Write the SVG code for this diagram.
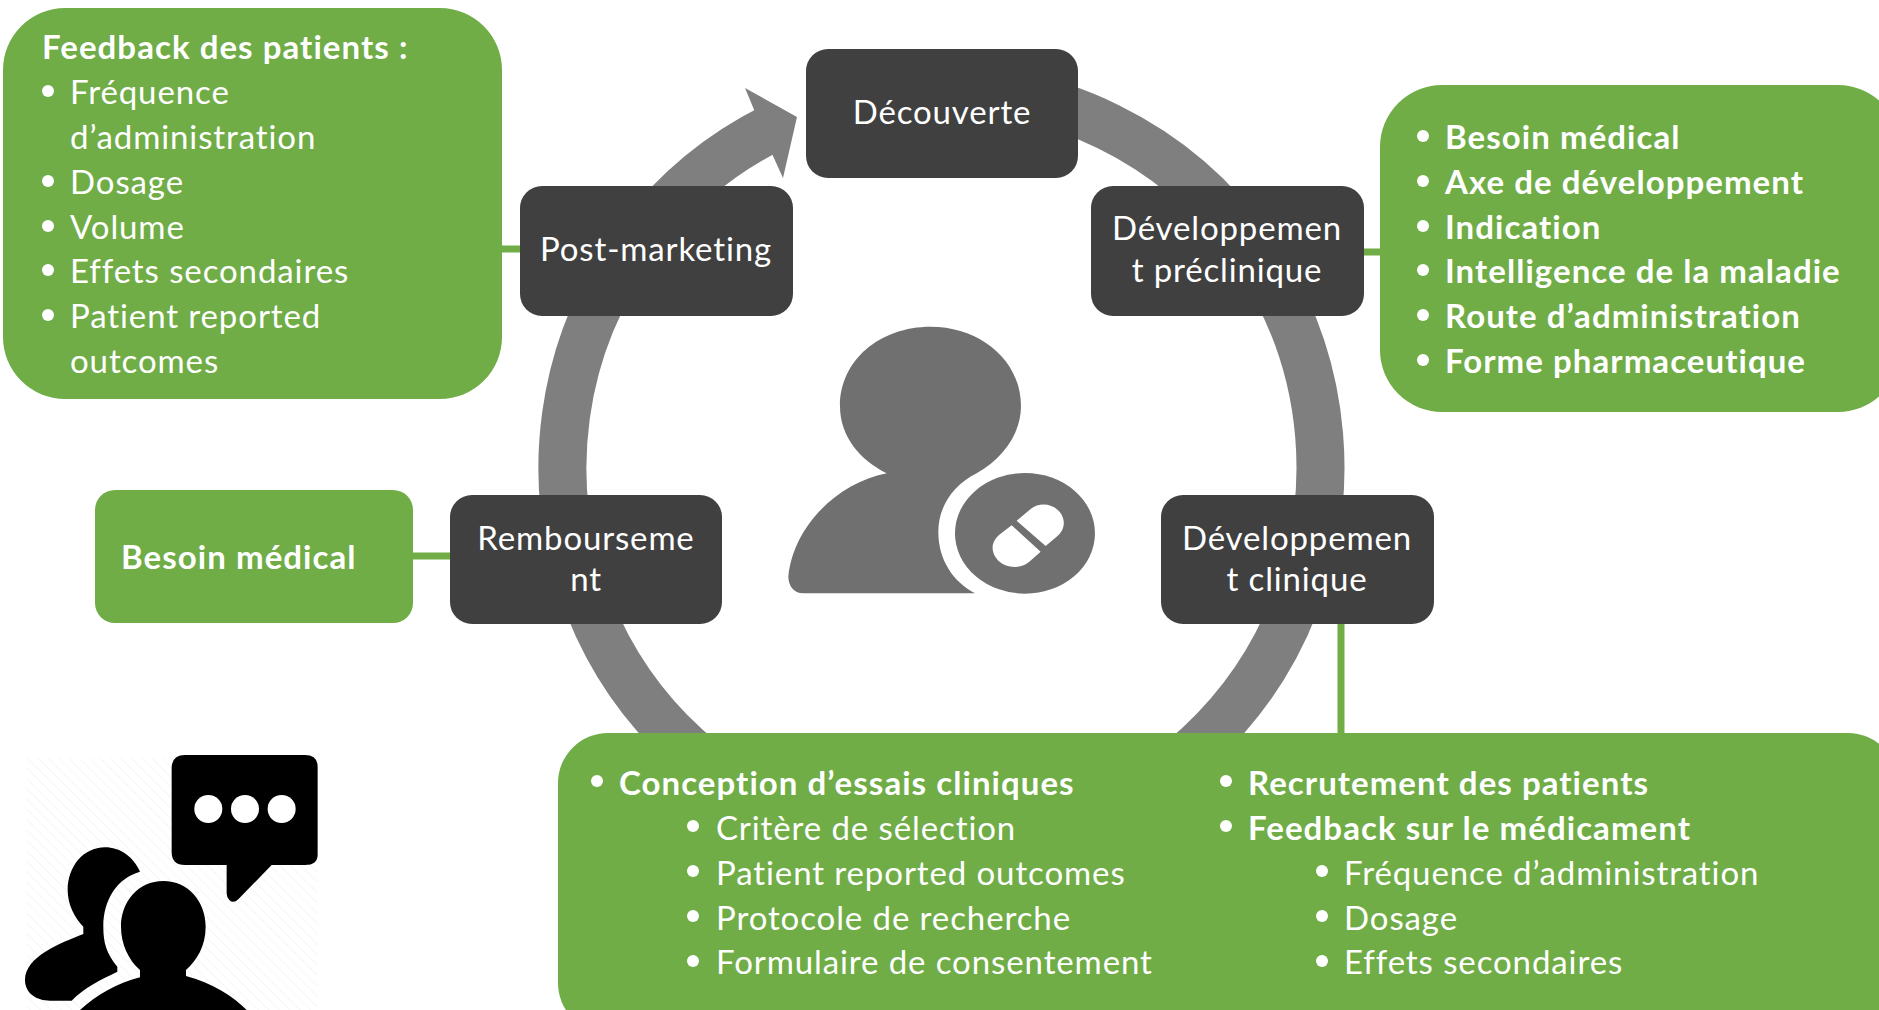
<svg xmlns="http://www.w3.org/2000/svg" width="1879" height="1010" viewBox="0 0 1879 1010">
<defs>
<style>
text{font-family:"Lato","Open Sans","Liberation Sans",sans-serif;fill:#fff;font-size:33px;letter-spacing:.9px}
.b{font-weight:700;letter-spacing:1.05px}
.n{fill:#404040}
.g{fill:#70AD47}
.nt{text-anchor:middle;font-size:33px;letter-spacing:.85px}
.c{stroke:#70AD47;stroke-width:7;fill:none}
.p{fill:#fff}
</style>
<pattern id="h" width="22" height="22" patternUnits="userSpaceOnUse" patternTransform="rotate(45)"><rect width="22" height="22" fill="#fff"/><rect width="22" height="3" fill="#f6f6f6"/></pattern>
</defs>
<rect width="1879" height="1010" fill="#fff"/>
<g id="connectors">
<path d="M942 88A379 379 0 1 1 772 128" fill="none" stroke="#7f7f7f" stroke-width="48"/>
<path d="M745 88L797 117L783 178L773 156L755 112Z" fill="#7f7f7f"/>
<path class="c" d="M500 249H522M1362 252H1382M411 556H451M1341 622V735"/>
</g>
<g id="decouverte"><rect class="n" x="806" y="49" width="272" height="129" rx="22"/><text class="nt" x="942" y="124">Découverte</text></g>
<g id="post-marketing"><rect class="n" x="520" y="186" width="273" height="130" rx="22"/><text class="nt" x="656" y="261">Post-marketing</text></g>
<g id="dev-preclinique"><rect class="n" x="1091" y="186" width="273" height="130" rx="22"/><text class="nt" x="1227" y="240">Développemen</text><text class="nt" x="1227" y="282">t préclinique</text></g>
<g id="dev-clinique"><rect class="n" x="1161" y="495" width="273" height="129" rx="22"/><text class="nt" x="1297" y="550">Développemen</text><text class="nt" x="1297" y="591">t clinique</text></g>
<g id="remboursement"><rect class="n" x="450" y="495" width="272" height="129" rx="22"/><text class="nt" x="586" y="550">Rembourseme</text><text class="nt" x="586" y="591">nt</text></g>
<g id="feedback-patients"><rect class="g" x="3" y="8" width="499" height="391" rx="62"/>
<text class="b" x="42" y="59">Feedback des patients :</text>
<circle class="p" cx="48" cy="91" r="6"/><text x="70" y="104">Fréquence</text><text x="70" y="149">d’administration</text>
<circle class="p" cx="48" cy="181" r="6"/><text x="70" y="194">Dosage</text>
<circle class="p" cx="48" cy="226" r="6"/><text x="70" y="239">Volume</text>
<circle class="p" cx="48" cy="270" r="6"/><text x="70" y="283">Effets secondaires</text>
<circle class="p" cx="48" cy="315" r="6"/><text x="70" y="328">Patient reported</text><text x="70" y="373">outcomes</text></g>
<g id="besoin-droite"><rect class="g" x="1380" y="85" width="520" height="327" rx="62"/>
<circle class="p" cx="1423" cy="136" r="6"/><text class="b" x="1445" y="149">Besoin médical</text>
<circle class="p" cx="1423" cy="181" r="6"/><text class="b" x="1445" y="194">Axe de développement</text>
<circle class="p" cx="1423" cy="226" r="6"/><text class="b" x="1445" y="239">Indication</text>
<circle class="p" cx="1423" cy="270" r="6"/><text class="b" x="1445" y="283">Intelligence de la maladie</text>
<circle class="p" cx="1423" cy="315" r="6"/><text class="b" x="1445" y="328">Route d’administration</text>
<circle class="p" cx="1423" cy="360" r="6"/><text class="b" x="1445" y="373">Forme pharmaceutique</text></g>
<g id="besoin-gauche"><rect class="g" x="95" y="490" width="318" height="133" rx="20"/><text class="b" x="121" y="569">Besoin médical</text></g>
<g id="essais"><rect class="g" x="558" y="733" width="1340" height="300" rx="50"/>
<circle class="p" cx="597" cy="781" r="6"/><text class="b" x="619" y="795">Conception d’essais cliniques</text>
<circle class="p" cx="693" cy="826" r="6"/><text x="716" y="840">Critère de sélection</text>
<circle class="p" cx="693" cy="871" r="6"/><text x="716" y="885">Patient reported outcomes</text>
<circle class="p" cx="693" cy="916" r="6"/><text x="716" y="930">Protocole de recherche</text>
<circle class="p" cx="693" cy="961" r="6"/><text x="716" y="974">Formulaire de consentement</text>
<circle class="p" cx="1226" cy="781" r="6"/><text class="b" x="1248" y="795">Recrutement des patients</text>
<circle class="p" cx="1226" cy="826" r="6"/><text class="b" x="1248" y="840">Feedback sur le médicament</text>
<circle class="p" cx="1322" cy="871" r="6"/><text x="1344" y="885">Fréquence d’administration</text>
<circle class="p" cx="1322" cy="916" r="6"/><text x="1344" y="930">Dosage</text>
<circle class="p" cx="1322" cy="961" r="6"/><text x="1344" y="974">Effets secondaires</text></g>
<g id="icone-patient" transform="translate(760 310) scale(.3333)" fill="#707070">
<path d="M380 490C300 450 240 380 240 288C240 150 360 50 512 50C660 50 783 150 783 288C783 370 730 445 650 490C580 525 535 590 535 665C535 750 580 815 645 850H130C100 850 85 825 85 800C100 650 230 520 380 490Z"/>
<ellipse cx="795" cy="670" rx="210" ry="181"/>
<path fill="#fff" d="M770 632L812 597C840 575 880 582 900 607C918 630 915 662 890 680L857 708ZM755 646L842 725L808 755C780 778 740 775 715 752C690 725 693 695 720 673Z"/>
</g>
<g id="icone-dialogue" transform="translate(0 730) scale(.3333)">
<rect x="80" y="85" width="873" height="755" fill="url(#h)"/>
<path d="M555 75H915Q953 75 953 110V375Q953 405 915 405H815L715 508Q700 522 688 510Q680 502 680 490V405H555Q515 405 515 365V115Q515 75 555 75Z"/>
<g fill="#fff"><circle cx="625" cy="237" r="42"/><circle cx="735" cy="237" r="42"/><circle cx="845" cy="237" r="42"/></g>
<path d="M420 425C400 380 360 352 315 352C250 352 203 410 203 480C203 525 225 565 250 590V612C180 640 75 680 75 750C75 790 110 812 150 812H215C250 775 300 750 352 725V710C320 670 310 640 310 590C310 510 350 445 420 425Z"/>
<path d="M490 453C565 453 617 515 617 590C617 650 590 690 558 720V738C640 760 700 800 740 840H240C290 795 350 760 420 742V720C385 690 363 640 363 590C363 515 415 453 490 453Z"/>
</g>
</svg>
